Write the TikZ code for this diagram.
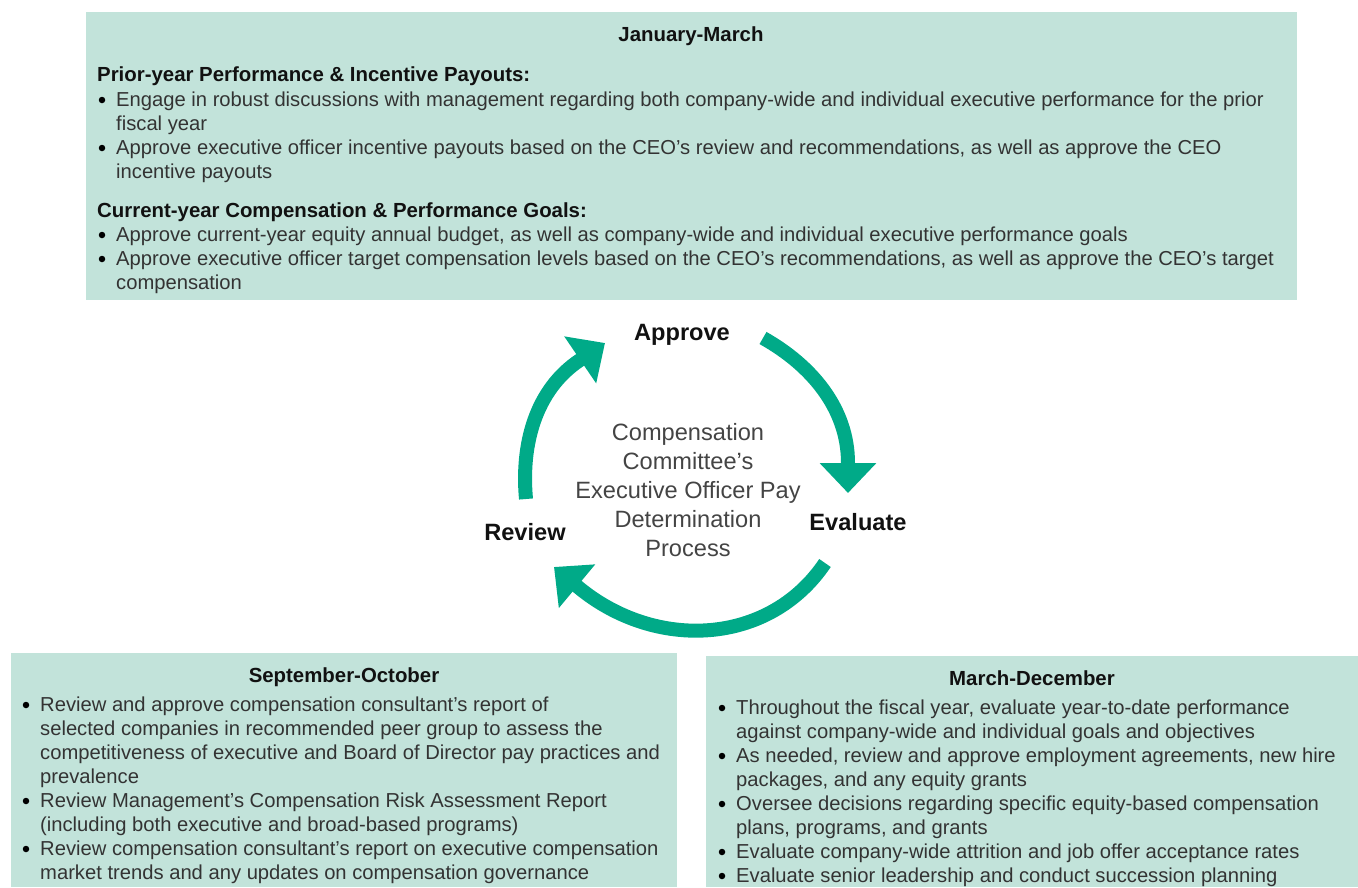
\documentclass[tikz,border=0pt]{standalone}
\usepackage{fontspec}
\setmainfont{Liberation Sans}
\usetikzlibrary{arrows.meta}
\definecolor{boxfill}{HTML}{C2E3DA}
\definecolor{arrowgreen}{HTML}{00AA88}
\definecolor{bodygray}{HTML}{333333}
\definecolor{centergray}{HTML}{444444}
\definecolor{headblack}{HTML}{111111}
\newcommand\bodyfont{\fontsize{20.2}{24}\selectfont}
\newcommand\headfont{\fontsize{20.4}{24}\selectfont\bfseries}
\newcommand\lblfont{\fontsize{23.6}{28}\selectfont\bfseries}
\newcommand\ctrfont{\fontsize{23.6}{29}\selectfont}
\newcommand\bitem[4]{\node[bul] (#1dot) at ({#2-14},{#3-6}) {}; \node[txt] (#1) at (#2,#3) {#4};}
\newcommand\contline[4]{\node[txt] (#1) at (#2,#3) {#4};}
\begin{document}
\begin{tikzpicture}[x=1pt,y=-1pt,
  box/.style={fill=boxfill, draw=none, inner sep=0pt, outer sep=0pt, anchor=north west},
  txt/.style={anchor=base west, inner sep=0pt, font=\bodyfont, text=bodygray},
  head/.style={inner sep=0pt, font=\headfont, text=headblack},
  bul/.style={circle, fill=black, inner sep=0pt, minimum size=6.5pt},
  lbl/.style={anchor=base, inner sep=0pt, font=\lblfont, text=headblack},
  cyc/.style={draw=arrowgreen, line width=14pt, -{Triangle[width=55pt,length=30pt]}}]
\useasboundingbox (0,0) rectangle (1358,887);

% boxes
\node[box, minimum width=1211pt, minimum height=288pt] (topbox) at (86,12) {};
\node[box, minimum width=666pt, minimum height=234pt] (sobox) at (11,653) {};
\node[box, minimum width=652pt, minimum height=231pt] (mdbox) at (706,656) {};

% top box text
\node[head, anchor=base] (jm) at (691,41) {January-March};
\node[head, anchor=base west] (py) at (97,81) {Prior-year Performance \& Incentive Payouts:};
\bitem{t1}{116}{106}{Engage in robust discussions with management regarding both company-wide and individual executive performance for the prior}
\contline{t1c}{116}{130}{fiscal year}
\bitem{t2}{116}{154}{Approve executive officer incentive payouts based on the CEO’s review and recommendations, as well as approve the CEO}
\contline{t2c}{116}{178}{incentive payouts}
\node[head, anchor=base west] (cy) at (97,217) {Current-year Compensation \& Performance Goals:};
\bitem{t3}{116}{241}{Approve current-year equity annual budget, as well as company-wide and individual executive performance goals}
\bitem{t4}{116}{265}{Approve executive officer target compensation levels based on the CEO’s recommendations, as well as approve the CEO’s target}
\contline{t4c}{116}{289}{compensation}

% September-October
\node[head, anchor=base] (so) at (344,682) {September-October};
\bitem{s1}{40}{711}{Review and approve compensation consultant’s report of}
\contline{s1c}{40}{735}{selected companies in recommended peer group to assess the}
\contline{s1d}{40}{759}{competitiveness of executive and Board of Director pay practices and}
\contline{s1e}{40}{783}{prevalence}
\bitem{s2}{40}{807}{Review Management’s Compensation Risk Assessment Report}
\contline{s2c}{40}{831}{(including both executive and broad-based programs)}
\bitem{s3}{40}{855}{Review compensation consultant’s report on executive compensation}
\contline{s3c}{40}{879}{market trends and any updates on compensation governance}

% March-December
\node[head, anchor=base] (md) at (1032,685) {March-December};
\bitem{m1}{736}{714}{Throughout the fiscal year, evaluate year-to-date performance}
\contline{m1c}{736}{738}{against company-wide and individual goals and objectives}
\bitem{m2}{736}{762}{As needed, review and approve employment agreements, new hire}
\contline{m2c}{736}{786}{packages, and any equity grants}
\bitem{m3}{736}{810}{Oversee decisions regarding specific equity-based compensation}
\contline{m3c}{736}{834}{plans, programs, and grants}
\bitem{m4}{736}{858}{Evaluate company-wide attrition and job offer acceptance rates}
\bitem{m5}{736}{882}{Evaluate senior leadership and conduct succession planning}

% cycle
\node[align=center, inner sep=0pt, font=\ctrfont, text=centergray] (ctr) at (688,490)
  {Compensation\\Committee’s\\Executive Officer Pay\\Determination\\Process};
\node[lbl] (approve) at (682,340) {Approve};
\node[lbl] (evaluate) at (858,530) {Evaluate};
\node[lbl] (review) at (525,540) {Review};

\coordinate (r0) at (763,338);
\coordinate (r1) at (848,463);
\coordinate (r2) at (848,493);
\draw[cyc] (r0) .. controls (811,365) and (848,408) .. (r1) -- (r2);

\coordinate (b0) at (825,563);
\coordinate (b1) at (578,587);
\coordinate (b2) at (554,567);
\draw[cyc] (b0) .. controls (769,646) and (655,651) .. (b1) -- (b2);

\coordinate (l0) at (526,499);
\coordinate (l1) at (580,360);
\coordinate (l2) at (605,343);
\draw[cyc] (l0) .. controls (521,445) and (535,390) .. (l1) -- (l2);
\end{tikzpicture}
\end{document}
